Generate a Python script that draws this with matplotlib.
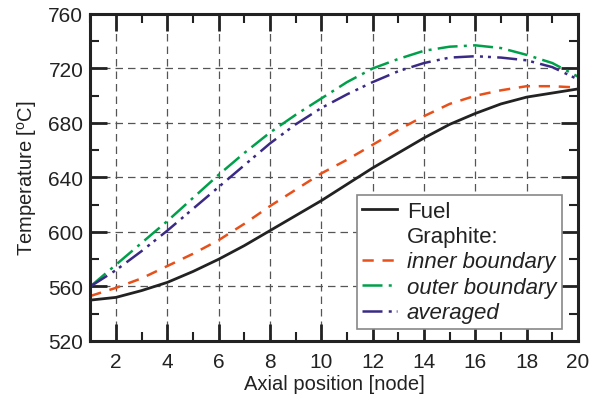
import matplotlib
matplotlib.use("Agg")
import matplotlib.pyplot as plt
from matplotlib.lines import Line2D
from matplotlib.ticker import MultipleLocator

plt.rcParams['font.family'] = ['Liberation Sans', 'DejaVu Sans']
plt.rcParams['mathtext.fontset'] = 'custom'
plt.rcParams['mathtext.rm'] = 'Liberation Sans'

# axial nodes and temperatures
node = list(range(1, 21))
fuel = [550, 552, 557, 563, 571, 580, 590, 601, 612, 623,
        635, 647, 658, 669, 679, 687, 694, 699, 702, 705]
inner = [553, 559, 566, 575, 584, 594, 606, 619, 631, 643,
         653, 664, 675, 685, 694, 700, 704, 707, 707, 706]
outer = [560, 576, 592, 608, 625, 642, 658, 673, 686, 698,
         710, 720, 727, 733, 736, 737, 735, 730, 724, 714]
avg = [560, 572, 586, 601, 617, 633, 649, 665, 679, 691,
       701, 710, 718, 724, 728, 729, 728, 726, 721, 712]

fig = plt.figure(figsize=(5.93, 4.02), dpi=100)
ax = fig.add_axes([0.1523, 0.1493, 0.8224, 0.8134])

c_fuel = '#222222'
c_in = '#e8501a'
c_out = '#00a04a'
c_avg = '#3b2a85'

lw = 1.8
ax.plot(node, fuel, color=c_fuel, lw=2.0, label='Fuel')
ax.plot(node, inner, color=c_in, lw=lw, dashes=(4.5, 3.5), label='inner boundary')
ax.plot(node, outer, color=c_out, lw=lw, dashes=(8, 2.5, 1.2, 2.5), label='outer boundary')
ax.plot(node, avg, color=c_avg, lw=lw, dashes=(8, 2.5, 1.2, 2, 1.2, 2.5), label='averaged')

ax.set_xlim(1, 20)
ax.set_ylim(520, 760)
ax.xaxis.set_major_locator(MultipleLocator(2))
ax.xaxis.set_minor_locator(MultipleLocator(1))
ax.yaxis.set_major_locator(MultipleLocator(40))
ax.yaxis.set_minor_locator(MultipleLocator(20))

ax.grid(True, which='major', color='#555555', lw=0.9, dashes=(6, 4))
ax.tick_params(which='both', direction='in', top=True, right=True,
               labelsize=15, colors='#222222')
ax.tick_params(axis='x', which='both', pad=8)
ax.tick_params(axis='y', which='both', pad=5)
ax.tick_params(which='major', length=12, width=2.0)
ax.tick_params(which='minor', length=6.5, width=1.5)
for sp in ax.spines.values():
    sp.set_linewidth(2.2)
    sp.set_color('#222222')

ax.set_xlabel('Axial position [node]', fontsize=14.5, color='#222222', labelpad=2)
ax.set_ylabel(r'Temperature [$^{\mathrm{o}}$C]', fontsize=14.5, color='#222222', labelpad=7)

h = ax.get_legend_handles_labels()[0]
blank = Line2D([], [], color='none')
handles = [h[0], blank, h[1], h[2], h[3]]
labels = ['Fuel', 'Graphite:', 'inner boundary', 'outer boundary', 'averaged']
leg = ax.legend(handles, labels, loc='lower right', bbox_to_anchor=(0.967, 0.037),
                borderaxespad=0, fontsize=16, fancybox=False, framealpha=1,
                edgecolor='#888888', handlelength=1.55, handletextpad=0.45,
                labelspacing=0.2, borderpad=0.25)
leg.get_frame().set_linewidth(1.2)
for i, t in enumerate(leg.get_texts()):
    t.set_color('#222222')
    if i >= 2:
        t.set_fontstyle('italic')

fig.savefig('out.png', dpi=100)
